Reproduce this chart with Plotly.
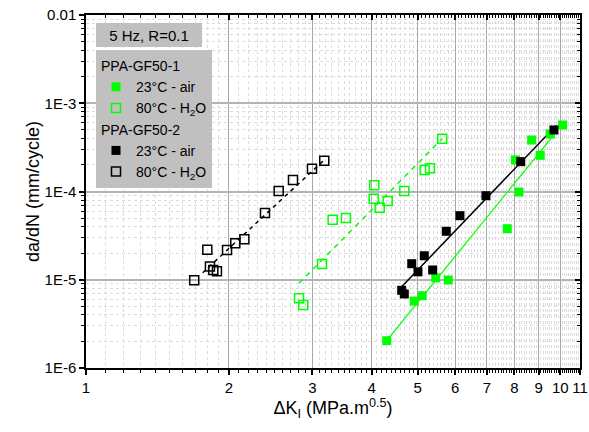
import numpy as np
import plotly.graph_objects as go

# ---- data ----
# PPA-GF50-1, 23°C - air (green filled)
g_air_dk = [4.305, 4.921, 5.116, 5.461, 5.801, 7.727, 8.181, 8.035, 8.70, 9.07, 9.52, 10.11]
g_air_dadn = [2.04e-6, 5.74e-6, 6.60e-6, 1.05e-5, 9.93e-6, 3.79e-5, 9.87e-5, 2.28e-4, 3.83e-4, 2.57e-4, 4.48e-4, 5.67e-4]
# PPA-GF50-1, 80°C - H2O (green open)
g_h2o_dk = [2.812, 2.871, 3.145, 3.311, 3.532, 4.053, 4.042, 4.160, 4.325, 4.688, 5.176, 5.311, 5.636]
g_h2o_dadn = [6.16e-6, 5.18e-6, 1.51e-5, 4.79e-5, 5.01e-5, 1.18e-4, 8.28e-5, 6.55e-5, 7.80e-5, 1.01e-4, 1.75e-4, 1.83e-4, 3.97e-4]
# PPA-GF50-2, 23°C - air (black filled)
b_air_dk = [4.629, 4.688, 4.860, 5.010, 5.166, 5.380, 5.748, 6.142, 6.968, 8.249, 9.694]
b_air_dadn = [7.59e-6, 6.90e-6, 1.52e-5, 1.23e-5, 1.87e-5, 1.29e-5, 3.54e-5, 5.32e-5, 8.96e-5, 2.18e-4, 4.98e-4]
# PPA-GF50-2, 80°C - H2O (black open)
b_h2o_dk = [1.691, 1.802, 1.825, 1.855, 1.888, 1.983, 2.064, 2.157, 2.384, 2.548, 2.731, 2.995, 3.179]
b_h2o_dadn = [9.86e-6, 2.19e-5, 1.41e-5, 1.29e-5, 1.25e-5, 2.17e-5, 2.59e-5, 2.87e-5, 5.71e-5, 1.01e-4, 1.35e-4, 1.81e-4, 2.23e-4]

# fitted Paris-law lines (end points)
fit_g_air_dk = [4.305, 9.74]
fit_g_air_dadn = [2.04e-6, 4.54e-4]
fit_g_h2o_dk = [2.812, 5.636]
fit_g_h2o_dadn = [9.12e-6, 3.97e-4]
fit_b_air_dk = [4.629, 9.80]
fit_b_air_dadn = [8.34e-6, 5.60e-4]
fit_b_h2o_dk = [1.762, 3.19]
fit_b_h2o_dadn = [1.20e-5, 2.32e-4]

x_ticks = [1, 2, 3, 4, 5, 6, 7, 8, 9, 10, 11]
x_ticklabels = ["1", "2", "3", "4", "5", "6", "7", "8", "9", "10", "11"]
y_ticks = [1e-6, 1e-5, 1e-4, 1e-3, 1e-2]
y_ticklabels = ["1E-6", "1E-5", "1E-4", "1E-3", "0.01"]

x_minor = [round(i + j / 10, 1) for i in range(1, 11) for j in range(1, 10)]
y_minor = [m * 10.0 ** e for e in range(-6, -2) for m in range(2, 10)]

GREEN = "#00ff00"
FONT = "Liberation Sans, Arial, sans-serif"

fig = go.Figure()

# fit lines
fig.add_trace(go.Scatter(x=fit_g_air_dk, y=fit_g_air_dadn, mode="lines",
                         line=dict(color=GREEN, width=1.2), showlegend=False, hoverinfo="skip"))
fig.add_trace(go.Scatter(x=fit_g_h2o_dk, y=fit_g_h2o_dadn, mode="lines",
                         line=dict(color=GREEN, width=1.5, dash="5px,5px"), showlegend=False, hoverinfo="skip"))
fig.add_trace(go.Scatter(x=fit_b_air_dk, y=fit_b_air_dadn, mode="lines",
                         line=dict(color="black", width=1.5), showlegend=False, hoverinfo="skip"))
fig.add_trace(go.Scatter(x=fit_b_h2o_dk, y=fit_b_h2o_dadn, mode="lines",
                         line=dict(color="black", width=1.5, dash="4px,4px"), showlegend=False, hoverinfo="skip"))

# data points
fig.add_trace(go.Scatter(x=g_air_dk, y=g_air_dadn, mode="markers", name="23°C - air",
                         legendgroup="g1", legendgrouptitle=dict(text="PPA-GF50-1"),
                         marker=dict(symbol="square", size=9, color=GREEN, line=dict(width=0))))
fig.add_trace(go.Scatter(x=g_h2o_dk, y=g_h2o_dadn, mode="markers", name="80°C - H<sub>2</sub>O",
                         legendgroup="g1",
                         marker=dict(symbol="square-open", size=9, color=GREEN, line=dict(width=1.5, color=GREEN))))
fig.add_trace(go.Scatter(x=b_air_dk, y=b_air_dadn, mode="markers", name="23°C - air",
                         legendgroup="g2", legendgrouptitle=dict(text="PPA-GF50-2"),
                         marker=dict(symbol="square", size=9, color="black", line=dict(width=0))))
fig.add_trace(go.Scatter(x=b_h2o_dk, y=b_h2o_dadn, mode="markers", name="80°C - H<sub>2</sub>O",
                         legendgroup="g2",
                         marker=dict(symbol="square-open", size=9, color="black", line=dict(width=1.5, color="black"))))

# empty trace to carry the mirrored top/right axes
fig.add_trace(go.Scatter(x=[], y=[], xaxis="x2", yaxis="y2", showlegend=False, hoverinfo="skip"))

xr = [0, np.log10(11) + 1e-6]
yr = [-6, -2]

fig.update_layout(
    width=589, height=432,
    margin=dict(l=86, r=9, t=15, b=64, autoexpand=False),
    paper_bgcolor="white", plot_bgcolor="white",
    font=dict(family=FONT, size=14, color="black"),
    showlegend=True,
    legend=dict(x=(96 - 86) / 494, y=(368 - 50) / 353, xanchor="left", yanchor="top",
                bgcolor="#c0c0c0", borderwidth=0, font=dict(size=14, family=FONT),
                grouptitlefont=dict(size=14, family=FONT),
                tracegroupgap=0, traceorder="grouped", itemwidth=30,
                entrywidth=124, entrywidthmode="pixels"),
    xaxis=dict(type="log", range=xr, tickmode="array", tickvals=x_ticks, ticktext=x_ticklabels,
               ticks="outside", ticklen=5, tickwidth=1.5, tickcolor="black",
               showline=True, linecolor="black", linewidth=1.5, mirror=False,
               showgrid=True, gridcolor="#a8a8a8", gridwidth=1.3, zeroline=False,
               tickfont=dict(size=15), ticklabeloverflow="allow",
               title=dict(text="ΔK<sub>I</sub> (MPa.m<sup>0.5</sup>)", font=dict(size=18), standoff=3),
               minor=dict(tickmode="array", tickvals=x_minor, ticks="outside", ticklen=3,
                          tickwidth=1, tickcolor="black", showgrid=True, gridcolor="#dcdcdc",
                          griddash="dot", gridwidth=1)),
    yaxis=dict(type="log", range=yr, tickmode="array", tickvals=y_ticks, ticktext=y_ticklabels,
               ticks="outside", ticklen=5, tickwidth=1.5, tickcolor="black",
               showline=True, linecolor="black", linewidth=1.5, mirror=False,
               showgrid=True, gridcolor="#b4b4b4", gridwidth=1.6, zeroline=False,
               tickfont=dict(size=15), ticklabeloverflow="allow",
               title=dict(text="da/dN (mm/cycle)", font=dict(size=18), standoff=0),
               minor=dict(tickmode="array", tickvals=y_minor, ticks="outside", ticklen=3,
                          tickwidth=1, tickcolor="black", showgrid=True, gridcolor="#dcdcdc",
                          griddash="dot", gridwidth=1)),
    xaxis2=dict(type="log", range=xr, overlaying="x", side="top", anchor="y2",
                tickmode="array", tickvals=x_ticks, showticklabels=False,
                ticks="inside", ticklen=5, tickwidth=1.5, tickcolor="black",
                showline=True, linecolor="black", linewidth=1.5, showgrid=False, zeroline=False,
                minor=dict(tickmode="array", tickvals=x_minor, ticks="inside", ticklen=3,
                           tickwidth=1, tickcolor="black", showgrid=False)),
    yaxis2=dict(type="log", range=yr, overlaying="y", side="right", anchor="x2",
                tickmode="array", tickvals=y_ticks, showticklabels=False,
                ticks="inside", ticklen=5, tickwidth=1.5, tickcolor="black",
                showline=True, linecolor="black", linewidth=1.5, showgrid=False, zeroline=False,
                minor=dict(tickmode="array", tickvals=y_minor, ticks="inside", ticklen=3,
                           tickwidth=1, tickcolor="black", showgrid=False)),
    annotations=[dict(text="5 Hz, R=0.1", xref="paper", yref="paper",
                      x=(96 - 86) / 494, y=(368 - 23) / 353, xanchor="left", yanchor="top",
                      showarrow=False, bgcolor="#c0c0c0", borderpad=2, borderwidth=0,
                      width=102, height=20, align="center", font=dict(size=15, family=FONT))],
)

fig.write_html("out.html", config={"displayModeBar": False},
               post_script="document.body.style.margin='0px';document.body.style.overflow='hidden';")
